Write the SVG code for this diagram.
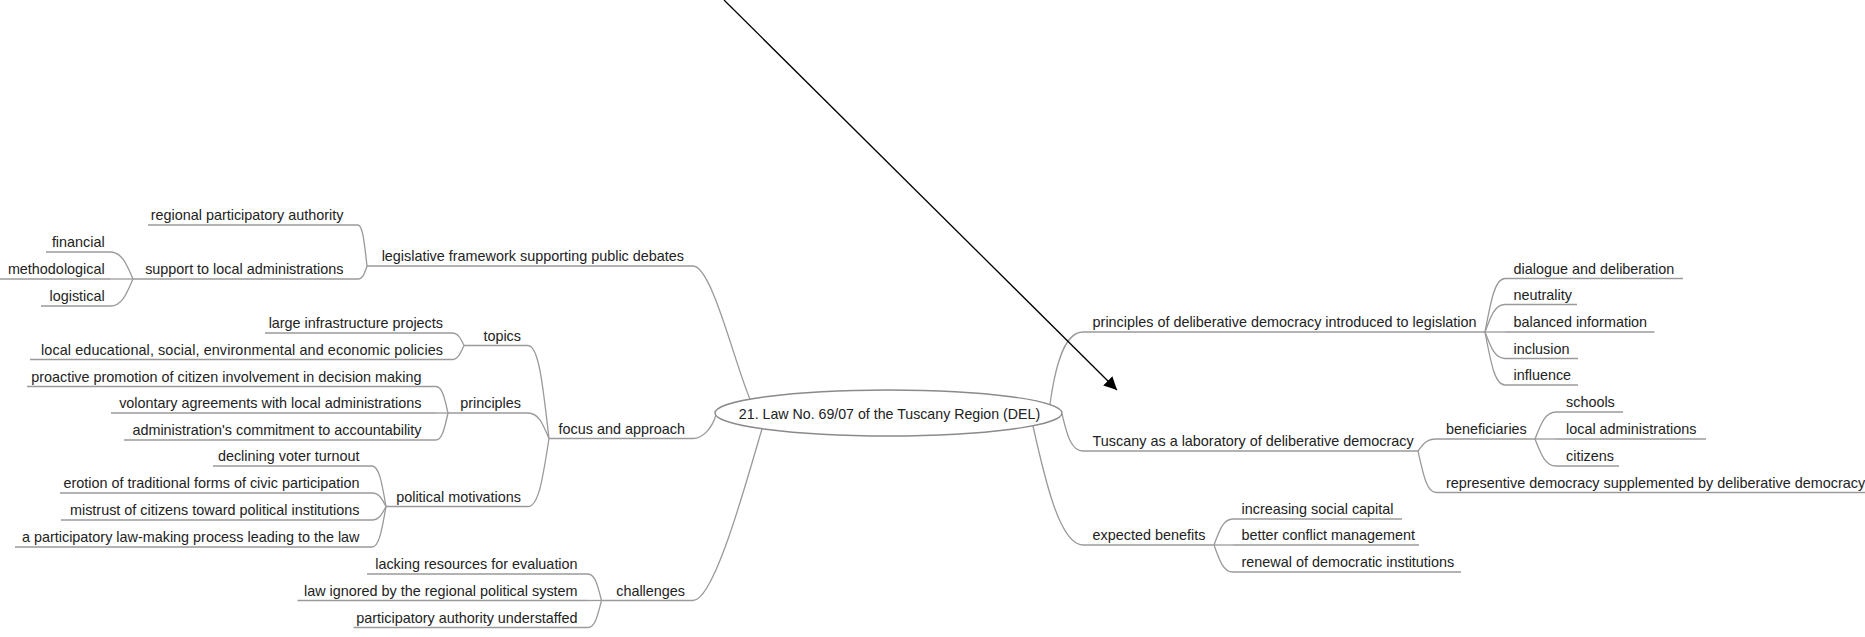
<svg xmlns="http://www.w3.org/2000/svg" width="1865" height="637" viewBox="0 0 1865 637">
<style>
text{font-family:"Liberation Sans",Arial,sans-serif;font-size:14.4px;fill:#222}
.l{text-anchor:end}
.ul{stroke:#9a9a9a;stroke-width:1.3;fill:none}
.c{stroke:#9a9a9a;stroke-width:1.3;fill:none}
.root{fill:#fff;stroke:#8a8a8a;stroke-width:1.4}
.rt{font-size:14.2px;text-anchor:middle}
</style>
<defs>
<marker id="ah" markerUnits="userSpaceOnUse" markerWidth="14" markerHeight="14" refX="13" refY="6.5" orient="auto">
<path d="M0,0 L13,6.5 L0,13 z" fill="#000"/>
</marker>
</defs>
<rect width="1865" height="637" fill="#fff"/>
<g id="connectors">
<path class="c" d="M750 399 C735 365,712 266,693 266"/>
<path class="c" d="M716 415 C712 428,703 438.5,693 438.5"/>
<path class="c" d="M762 429 C748 475,715 600.5,693 600.5"/>
<path class="c" d="M1050 404 C1054 375,1062 332,1083 332"/>
<path class="c" d="M1062 414 C1066 430,1070 451,1083 451"/>
<path class="c" d="M1033 426 C1045 480,1060 545,1083 545"/>
<path class="c" d="M367 266 C364.3 241.4,362.5 225,358 225"/>
<path class="c" d="M367 266 C364.3 274.4,362.5 279,358 279"/>
<path class="c" d="M133 279 C126.1 262.8,121.5 252,110 252"/>
<path class="c" d="M133 279 H110"/>
<path class="c" d="M133 279 C126.1 295.2,121.5 306,110 306"/>
<path class="c" d="M549 438.5 C542.7 382.7,538.5 345.5,528 345.5"/>
<path class="c" d="M549 438.5 C542.7 423.5,538.5 413,528 413"/>
<path class="c" d="M549 438.5 C542.7 479.3,538.5 506.5,528 506.5"/>
<path class="c" d="M464 345.5 C460.4 338,458 333,452 333"/>
<path class="c" d="M464 345.5 C460.4 353.4,458 359.5,452 359.5"/>
<path class="c" d="M448 413 C444.4 397.1,442 386.5,436 386.5"/>
<path class="c" d="M448 413 H436"/>
<path class="c" d="M448 413 C444.4 429.2,442 440,436 440"/>
<path class="c" d="M386 506.5 C381.8 482.2,379 466,372 466"/>
<path class="c" d="M386 506.5 C381.8 498.4,379 493,372 493"/>
<path class="c" d="M386 506.5 C381.8 514.6,379 520,372 520"/>
<path class="c" d="M386 506.5 C381.8 530.8,379 547,372 547"/>
<path class="c" d="M601.5 600.5 C597.5 584.6,594.8 574,588 574"/>
<path class="c" d="M601.5 600.5 H588"/>
<path class="c" d="M601.5 600.5 C597.5 616.4,594.8 627.5,588 627.5"/>
<path class="c" d="M1485 332 C1491 299.9,1495 278.5,1505 278.5"/>
<path class="c" d="M1485 332 C1491 315.5,1495 304.5,1505 304.5"/>
<path class="c" d="M1485 332 H1505"/>
<path class="c" d="M1485 332 C1491 347.9,1495 358.5,1505 358.5"/>
<path class="c" d="M1485 332 C1491 363.8,1495 385,1505 385"/>
<path class="c" d="M1418 451 C1423.4 443.8,1427 439,1436 439"/>
<path class="c" d="M1418 451 C1423.4 475.5,1427 492.5,1436 492.5"/>
<path class="c" d="M1535 439 C1541.3 422.8,1545.5 412,1556 412"/>
<path class="c" d="M1535 439 H1556"/>
<path class="c" d="M1535 439 C1541.3 455.2,1545.5 466,1556 466"/>
<path class="c" d="M1214 545 C1219.7 529.4,1223.5 519,1233 519"/>
<path class="c" d="M1214 545 H1233"/>
<path class="c" d="M1214 545 C1219.7 561.2,1223.5 572,1233 572"/>
<path d="M724 0 L1117 390" stroke="#000" stroke-width="1.3" fill="none" marker-end="url(#ah)"/>
</g>
<g id="root">
<ellipse class="root" cx="888.5" cy="413" rx="173.5" ry="23"/>
<text class="rt" x="889.5" y="419">21. Law No. 69/07 of the Tuscany Region (DEL)</text>
</g>
<g id="n-legislative"><path class="ul" d="M367 266 H693"/><text class="l" x="684" y="261">legislative framework supporting public debates</text></g>
<g id="n-regional"><path class="ul" d="M148 225 H358"/><text class="l" x="343.5" y="220">regional participatory authority</text></g>
<g id="n-support"><path class="ul" d="M133 279 H358"/><text class="l" x="343.5" y="274">support to local administrations</text></g>
<g id="n-financial"><path class="ul" d="M46 252 H110"/><text class="l" x="104.7" y="247">financial</text></g>
<g id="n-methodological"><path class="ul" d="M0 279 H110"/><text class="l" x="104.7" y="274">methodological</text></g>
<g id="n-logistical"><path class="ul" d="M41 306 H110"/><text class="l" x="104.7" y="301">logistical</text></g>
<g id="n-focus"><path class="ul" d="M549 438.5 H693"/><text class="l" x="685" y="433.5">focus and approach</text></g>
<g id="n-topics"><path class="ul" d="M464 345.5 H528"/><text class="l" x="521" y="340.5">topics</text></g>
<g id="n-large"><path class="ul" d="M265 333 H452"/><text class="l" x="443" y="328">large infrastructure projects</text></g>
<g id="n-localedu"><path class="ul" d="M30 359.5 H452"/><text class="l" x="443" y="354.5" textLength="402">local educational, social, environmental and economic policies</text></g>
<g id="n-principles"><path class="ul" d="M448 413 H528"/><text class="l" x="521" y="408">principles</text></g>
<g id="n-proactive"><path class="ul" d="M27 386.5 H436"/><text class="l" x="421.5" y="381.5">proactive promotion of citizen involvement in decision making</text></g>
<g id="n-volontary"><path class="ul" d="M111 413 H436"/><text class="l" x="421.5" y="408">volontary agreements with local administrations</text></g>
<g id="n-admin"><path class="ul" d="M124 440 H436"/><text class="l" x="421.5" y="435">administration's commitment to accountability</text></g>
<g id="n-political"><path class="ul" d="M386 506.5 H528"/><text class="l" x="521" y="501.5">political motivations</text></g>
<g id="n-declining"><path class="ul" d="M213 466 H372"/><text class="l" x="359.5" y="461">declining voter turnout</text></g>
<g id="n-erotion"><path class="ul" d="M60 493 H372"/><text class="l" x="359.5" y="488">erotion of traditional forms of civic participation</text></g>
<g id="n-mistrust"><path class="ul" d="M61 520 H372"/><text class="l" x="359.5" y="515">mistrust of citizens toward political institutions</text></g>
<g id="n-lawmaking"><path class="ul" d="M15 547 H372"/><text class="l" x="359.5" y="542">a participatory law-making process leading to the law</text></g>
<g id="n-challenges"><path class="ul" d="M601.5 600.5 H693"/><text class="l" x="685" y="595.5">challenges</text></g>
<g id="n-lacking"><path class="ul" d="M367 574 H588"/><text class="l" x="577.6" y="569">lacking resources for evaluation</text></g>
<g id="n-ignored"><path class="ul" d="M297.5 600.5 H588"/><text class="l" x="577.6" y="595.5">law ignored by the regional political system</text></g>
<g id="n-understaffed"><path class="ul" d="M353.5 627.5 H588"/><text class="l" x="577.6" y="622.5">participatory authority understaffed</text></g>
<g id="n-principlesdd"><path class="ul" d="M1083 332 H1485"/><text x="1092.6" y="327">principles of deliberative democracy introduced to legislation</text></g>
<g id="n-dialogue"><path class="ul" d="M1505 278.5 H1683"/><text x="1513.5" y="273.5">dialogue and deliberation</text></g>
<g id="n-neutrality"><path class="ul" d="M1505 304.5 H1577"/><text x="1513.5" y="300">neutrality</text></g>
<g id="n-balanced"><path class="ul" d="M1505 332 H1654.5"/><text x="1513.5" y="327">balanced information</text></g>
<g id="n-inclusion"><path class="ul" d="M1505 358.5 H1578"/><text x="1513.5" y="353.5">inclusion</text></g>
<g id="n-influence"><path class="ul" d="M1505 385 H1578"/><text x="1513.5" y="380">influence</text></g>
<g id="n-tuscany"><path class="ul" d="M1083 451 H1418"/><text x="1092.6" y="446">Tuscany as a laboratory of deliberative democracy</text></g>
<g id="n-beneficiaries"><path class="ul" d="M1436 439 H1535"/><text x="1446" y="434">beneficiaries</text></g>
<g id="n-schools"><path class="ul" d="M1556 412 H1623"/><text x="1566" y="407">schools</text></g>
<g id="n-localadmin"><path class="ul" d="M1556 439 H1706"/><text x="1566" y="434">local administrations</text></g>
<g id="n-citizens"><path class="ul" d="M1556 466 H1619"/><text x="1566" y="461">citizens</text></g>
<g id="n-representive"><path class="ul" d="M1436 492.5 H1865"/><text x="1446" y="487.5">representive democracy supplemented by deliberative democracy</text></g>
<g id="n-expected"><path class="ul" d="M1083 545 H1214"/><text x="1092.6" y="540">expected benefits</text></g>
<g id="n-increasing"><path class="ul" d="M1233 519 H1402"/><text x="1241.5" y="514">increasing social capital</text></g>
<g id="n-better"><path class="ul" d="M1233 545 H1419"/><text x="1241.5" y="540">better conflict management</text></g>
<g id="n-renewal"><path class="ul" d="M1233 572 H1461"/><text x="1241.5" y="567">renewal of democratic institutions</text></g>
</svg>
